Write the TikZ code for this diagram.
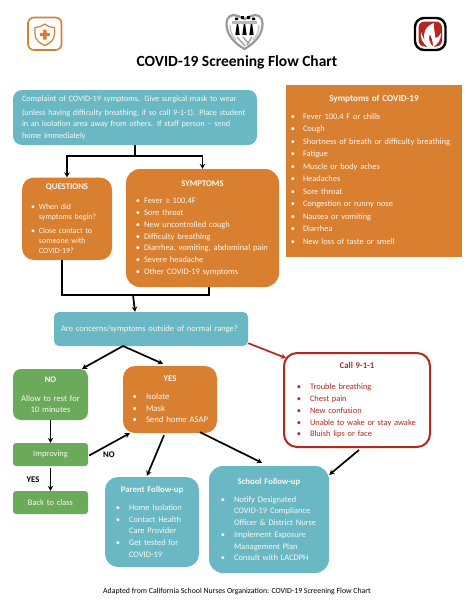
\documentclass[tikz,border=0pt]{standalone}
\usepackage{fontspec}
\setmainfont{Carlito}
\usetikzlibrary{arrows.meta,calc}
\definecolor{tealbox}{RGB}{105,184,196}
\definecolor{orangebox}{RGB}{217,127,48}
\definecolor{greenbox}{RGB}{106,170,90}
\definecolor{redline}{RGB}{178,40,32}
\definecolor{txtw}{RGB}{250,248,240}
\newenvironment{blist}[2]{\begin{list}{\textbullet}{\setlength\leftmargin{#1}\setlength\labelwidth{10pt}\setlength\labelsep{#2}\setlength\itemsep{0pt}\setlength\parsep{0pt}\setlength\topsep{0pt}\setlength\partopsep{0pt}\setlength\rightmargin{0pt}}\raggedright}{\end{list}}
\newcommand\boxfont{\fontsize{8.45}{11.75}\selectfont}
\newcommand\ttl[1]{{\centering\fontsize{8.7}{11.75}\selectfont\textbf{#1}\par}}
\newcommand\oneline[2]{\makebox[#1][l]{\hspace{9pt}#2}}
\tikzset{
  box/.style={minimum width=#1,text width=#1,inner sep=0pt,align=left,text=txtw,font=\boxfont},
  tealnode/.style={fill=tealbox,rounded corners=9pt},
  orangenode/.style={fill=orangebox,rounded corners=12pt},
  greennode/.style={fill=greenbox,rounded corners=5pt},
  link/.style={draw=black,line width=1.7pt,-{Stealth[length=5pt,width=5.5pt]}},
  plainlink/.style={draw=black,line width=1.7pt},
  lbl/.style={font=\fontsize{8.7}{10}\selectfont\bfseries,inner sep=0pt}
}
\begin{document}
\begin{tikzpicture}[x=1pt,y=-1pt]
\useasboundingbox (0,0) rectangle (474,613);
% left logo
\draw[draw=orangebox,line width=1.6pt,fill=white,rounded corners=6pt] (28,17.5) rectangle (61.5,50);
\draw[draw=orangebox,line width=1.2pt,fill=white] (44.7,24) .. controls (40,27) and (38,27.5) .. (35,27.5) -- (35,34) .. controls (35,40) and (40,43.5) .. (44.7,45.5) .. controls (49.5,43.5) and (54.5,40) .. (54.5,34) -- (54.5,27.5) .. controls (51,27.5) and (49,27) .. (44.7,24) -- cycle;
\fill[orangebox] (43,29.5) rectangle (46.6,39.5) (39.8,32.8) rectangle (49.8,36.2);
% crest
\draw[draw=gray!80,line width=2.2pt,fill=white] (244.5,49) .. controls (236,44) and (226.5,36) .. (226.5,24) .. controls (226.5,16) and (232,13.5) .. (238,16) -- (244.5,19) -- (251,16) .. controls (257,13.5) and (262.5,16) .. (262.5,24) .. controls (262.5,36) and (253,44) .. (244.5,49) -- cycle;
\fill[gray!55] (232,21) rectangle (257,24);
\fill[black] (235,17.5) rectangle (238,20) (241,16) rectangle (244,19) (247,16) rectangle (250,19) (252,17.5) rectangle (255,20);
\foreach \cx in {237.5,244.5,251.5}{
  \fill[black] (\cx-0.7,24) -- (\cx+0.7,24) -- (\cx+2.2,35) -- (\cx-2.2,35) -- cycle;
}
\draw[gray!70,line width=1.5pt] (237,37) -- (245,46) (243,37) -- (249,44) (252,37) -- (247,45);
\draw[gray!50,line width=1.2pt] (230,25) .. controls (230,31) and (232,36) .. (236,40) (259,25) .. controls (259,31) and (257,36) .. (253,40);
% right logo
\draw[draw=black,line width=2.4pt,fill=white,rounded corners=9pt] (415,18) rectangle (445.5,50);
\fill[redline,rounded corners=6pt] (418.5,21.5) rectangle (442,46.5);
\fill[white] (434,23) .. controls (426,26) and (422,33) .. (425,40) .. controls (422,37) and (422,34) .. (421,32) .. controls (420,38) and (423,44) .. (428,47) -- (433,47) .. controls (429,42) and (428,38) .. (430,34) .. controls (431,37) and (433,40) .. (433,47) .. controls (438,44) and (441,40) .. (441,33) .. controls (439,37) and (437,38) .. (435,38) .. controls (436,34) and (433,30) .. (434,23) -- cycle;
% title
\node[font=\fontsize{15.5}{18}\selectfont\bfseries,inner sep=0pt] (title) at (237,62.5) {COVID-19 Screening Flow Chart};
% boxes
\node[box=244pt,tealnode,minimum height=55pt,font=\fontsize{8.23}{11.4}\selectfont] (complaint) at (135,117.5) {\vspace*{3pt}\oneline{244pt}{Complaint of COVID-19 symptoms. Give surgical mask to wear}\\
\oneline{244pt}{(unless having difficulty breathing, if so call 9-1-1). Place student}\\
\oneline{244pt}{in an isolation area away from others. If staff person -- send}\\
\oneline{244pt}{home immediately}};
\node[box=90pt,orangenode,minimum height=82.5pt,font=\fontsize{7.9}{10}\selectfont] (questions) at (67,218.8) {\vspace*{5.4pt}\ttl{QUESTIONS}\vspace{4pt}
\begin{blist}{17pt}{4pt}
\item When did\\symptoms begin?\vspace{4pt}
\item Close contact to\\someone with\\COVID-19?
\end{blist}};
\node[box=153pt,orangenode,rounded corners=14pt,minimum height=118pt] (symptoms) at (202.5,228) {\vspace*{1pt}\ttl{SYMPTOMS}\vspace{5pt}
\begin{blist}{18pt}{4pt}
\item Fever ≥ 100.4F
\item Sore throat
\item New uncontrolled cough
\item Difficulty breathing
\item Diarrhea, vomiting, abdominal pain
\item Severe headache
\item Other COVID-19 symptoms
\end{blist}};
\node[box=176pt,fill=orangebox,minimum height=172pt,font=\fontsize{8.4}{12.5}\selectfont] (covid) at (374,171) {{\centering\fontsize{9.1}{12.5}\selectfont\textbf{Symptoms of COVID-19}\par}\vspace{5.5pt}
\begin{blist}{17pt}{8pt}
\item Fever 100.4 F or chills
\item Cough
\item Shortness of breath or difficulty breathing
\item Fatigue
\item Muscle or body aches
\item Headaches
\item Sore throat
\item Congestion or runny nose
\item Nausea or vomiting
\item Diarrhea
\item New loss of taste or smell
\end{blist}\vspace*{3pt}};
\node[box=194pt,fill=tealbox,rounded corners=5pt,minimum height=34pt,font=\fontsize{8.5}{11}\selectfont] (concerns) at (151,329) {\makebox[194pt][l]{\hspace{7pt}Are concerns/symptoms outside of normal range?}};
\node[box=75pt,greennode,rounded corners=8pt,minimum height=51pt,align=center,font=\fontsize{8.6}{11}\selectfont] (no) at (50.5,394.5) {\vspace*{1pt}\textbf{NO}\\[7pt]Allow to rest for\\10 minutes};
\node[box=94pt,orangenode,minimum height=67pt,font=\fontsize{8.7}{11.75}\selectfont] (yes) at (170,399.5) {\ttl{YES}\vspace{6pt}
\begin{blist}{23pt}{9pt}
\item Isolate
\item Mask
\item Send home ASAP
\end{blist}};
\node[box=75pt,greennode,rounded corners=3pt,minimum height=23pt,align=center] (improving) at (50.5,454.5) {Improving};
\node[box=75pt,greennode,rounded corners=3pt,minimum height=23pt,align=center] (back) at (50.5,502.5) {Back to class};
\node[box=94pt,tealnode,rounded corners=13pt,minimum height=90pt] (parent) at (152,522) {\ttl{Parent Follow-up}\vspace{6pt}
\begin{blist}{24pt}{9pt}
\item Home Isolation
\item Contact Health\\Care Provider
\item Get tested for\\COVID-19
\end{blist}};
\node[box=120pt,tealnode,rounded corners=14pt,minimum height=107pt] (school) at (269,519.5) {\ttl{School Follow-up}\vspace{6pt}
\begin{blist}{25pt}{9pt}
\item Notify Designated\\COVID-19 Compliance\\Officer \& District Nurse
\item Implement Exposure\\Management Plan
\item Consult with LACDPH
\end{blist}};
\node[box=146pt,draw=redline,line width=2pt,fill=white,rounded corners=13pt,minimum height=94pt,text=redline,font=\fontsize{8.4}{11.75}\selectfont] (call) at (357,400) {\vspace*{4pt}\ttl{Call 9-1-1}\vspace{6pt}
\begin{blist}{26pt}{9pt}
\item Trouble breathing
\item Chest pain
\item New confusion
\item Unable to wake or stay awake
\item Bluish lips or face
\end{blist}};
% labels
\node[lbl] (lno) at (109,455) {NO};
\node[lbl] (lyes) at (33,480) {YES};
\node[font=\fontsize{7.8}{10}\selectfont,inner sep=0pt] (foot) at (237,591) {Adapted from California School Nurses Organization: COVID-19 Screening Flow Chart};
% connectors
\coordinate (split) at (135,156);
\coordinate (merge) at (133,295);
\coordinate (fork) at (123,346);
\coordinate (qdrop) at (62,260);
\coordinate (sdrop) at (209,287);
\draw[plainlink] (complaint.south -| split) -- (split);
\draw[link] (split) -| (questions.north);
\draw[link] (split) -| (symptoms.north);
\draw[plainlink] (qdrop) |- (merge);
\draw[plainlink] (sdrop) |- (merge);
\draw[link] (merge) -- ($(concerns.north)+(-16,0)$);
\draw[link] (fork) -- ($(no.north)+(31.5,0)$);
\draw[link] (fork) -- ($(yes.north)+(-7,-2)$);
\draw[link,draw=redline] ($(concerns.south east)+(0,-3)$) -- ($(call.north west)+(3,6)$);
\draw[link] (no.south) -- (improving.north);
\draw[link] ($(improving.east)+(1,1)$) -- ($(yes.south west)+(7,0)$);
\draw[link] ($(improving.south)+(0,2)$) -- (back.north);
\draw[link] ($(yes.south)+(-6,2)$) -- ($(parent.north)+(-5,-1)$);
\draw[link] ($(yes.south)+(30,-1)$) -- ($(school.north)+(-7,-3)$);
\draw[link] ($(call.south)+(2,2)$) -- ($(school.north east)+(0,9)$);
\end{tikzpicture}
\end{document}
